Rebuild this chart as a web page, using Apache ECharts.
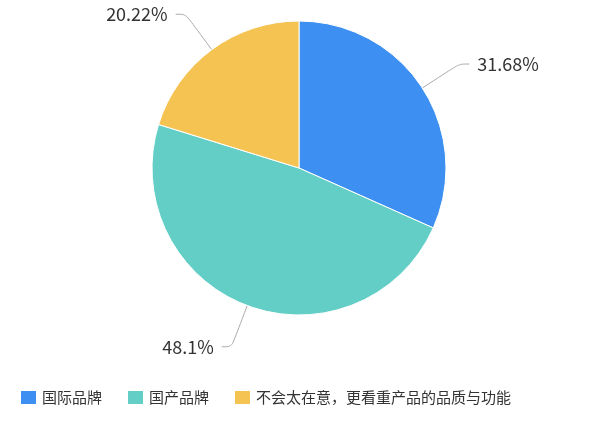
<!DOCTYPE html>
<html>
<head>
<meta charset="utf-8">
<script src="https://cdn.jsdelivr.net/npm/echarts@6/dist/echarts.min.js"></script>
<style>
  html, body { margin: 0; padding: 0; background: #fff; }
  #main { width: 600px; height: 424px; }
</style>
</head>
<body>
<div id="main"></div>
<script>
const categories = ['国际品牌', '国产品牌', '不会太在意，更看重产品的品质与功能']
const values = [31.68, 48.1, 20.22]
const colors = ['#3d90f1', '#62cec6', '#f4c352']

const chart = echarts.init(document.getElementById('main'))

chart.setOption({
  color: colors,
  legend: {
    left: 14,
    bottom: 13,
    itemWidth: 17,
    itemHeight: 15,
    itemGap: 24,
    icon: 'rect',
    textStyle: {
      fontFamily: 'Noto Sans CJK SC',
      fontSize: 15,
      color: '#333'
    },
    data: categories
  },
  series: [
    {
      type: 'pie',
      center: [299, 168],
      radius: 147,
      startAngle: 90,
      clockwise: true,
      itemStyle: {
        borderColor: '#fff',
        borderWidth: 1
      },
      label: {
        formatter: '{c}%',
        fontFamily: 'Noto Sans CJK SC',
        fontSize: 18,
        color: '#333',
        distanceToLabelLine: 8
      },
      labelLine: {
        length: 44,
        length2: 10,
        smooth: 0.3,
        lineStyle: {
          color: '#aaaaaa',
          width: 1
        }
      },
      data: categories.map((name, i) => ({ name, value: values[i] }))
    }
  ]
})
</script>
</body>
</html>
